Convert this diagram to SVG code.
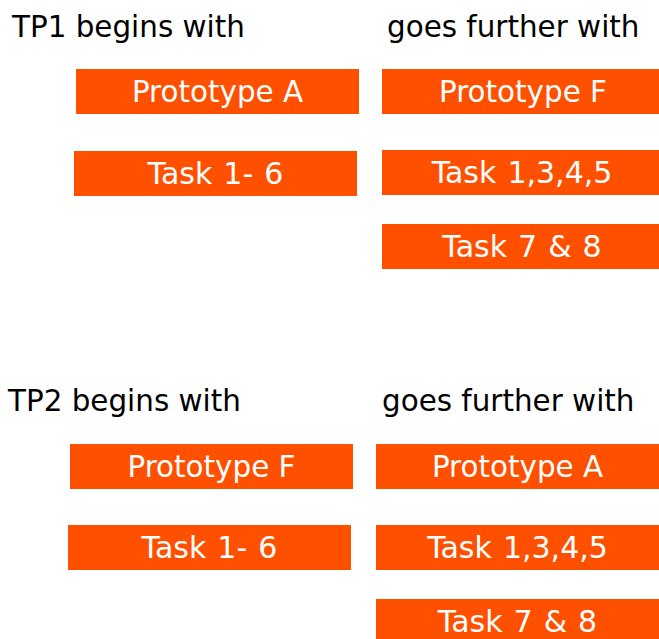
<svg xmlns="http://www.w3.org/2000/svg" width="659" height="639" viewBox="0 0 659 639">
<style>
.h{font-family:"DejaVu Sans",Verdana,sans-serif;font-size:29.4px;fill:#000}
.b{fill:#FF5000}
.t{font-family:"DejaVu Sans",Verdana,sans-serif;font-size:29.4px;fill:#fff;text-anchor:middle}
.k{font-size:30px;word-spacing:1.5px}
</style>
<rect width="659" height="639" fill="#fff"/>
<g id="headers">
<text class="h" x="12" y="37">TP1 begins with</text>
<text class="h" x="387" y="37">goes further with</text>
<text class="h" x="8" y="411">TP2 begins with</text>
<text class="h" x="382" y="411">goes further with</text>
</g>
<g id="tp1-protoA"><rect class="b" x="76" y="69" width="283" height="45"/><text class="t" x="217.5" y="102">Prototype A</text></g>
<g id="tp1-task16"><rect class="b" x="74" y="151" width="283" height="45"/><text class="t k" x="215.5" y="184">Task 1- 6</text></g>
<g id="tp1-protoF"><rect class="b" x="382" y="69" width="283" height="45"/><text class="t" x="523" y="102">Prototype F</text></g>
<g id="tp1-task1345"><rect class="b" x="382" y="150" width="283" height="45"/><text class="t k" x="522" y="183">Task 1,3,4,5</text></g>
<g id="tp1-task78"><rect class="b" x="382" y="224" width="283" height="45"/><text class="t k" x="522" y="257">Task 7 &amp; 8</text></g>
<g id="tp2-protoF"><rect class="b" x="70" y="444" width="283" height="45"/><text class="t" x="211.5" y="477">Prototype F</text></g>
<g id="tp2-task16"><rect class="b" x="68" y="525" width="283" height="45"/><text class="t k" x="209.5" y="558">Task 1- 6</text></g>
<g id="tp2-protoA"><rect class="b" x="376" y="444" width="283" height="45"/><text class="t" x="517.5" y="477">Prototype A</text></g>
<g id="tp2-task1345"><rect class="b" x="376" y="525" width="283" height="45"/><text class="t k" x="517.5" y="558">Task 1,3,4,5</text></g>
<g id="tp2-task78"><rect class="b" x="376" y="599" width="283" height="45"/><text class="t k" x="517.5" y="632">Task 7 &amp; 8</text></g>
<g id="connectors"/>
</svg>
